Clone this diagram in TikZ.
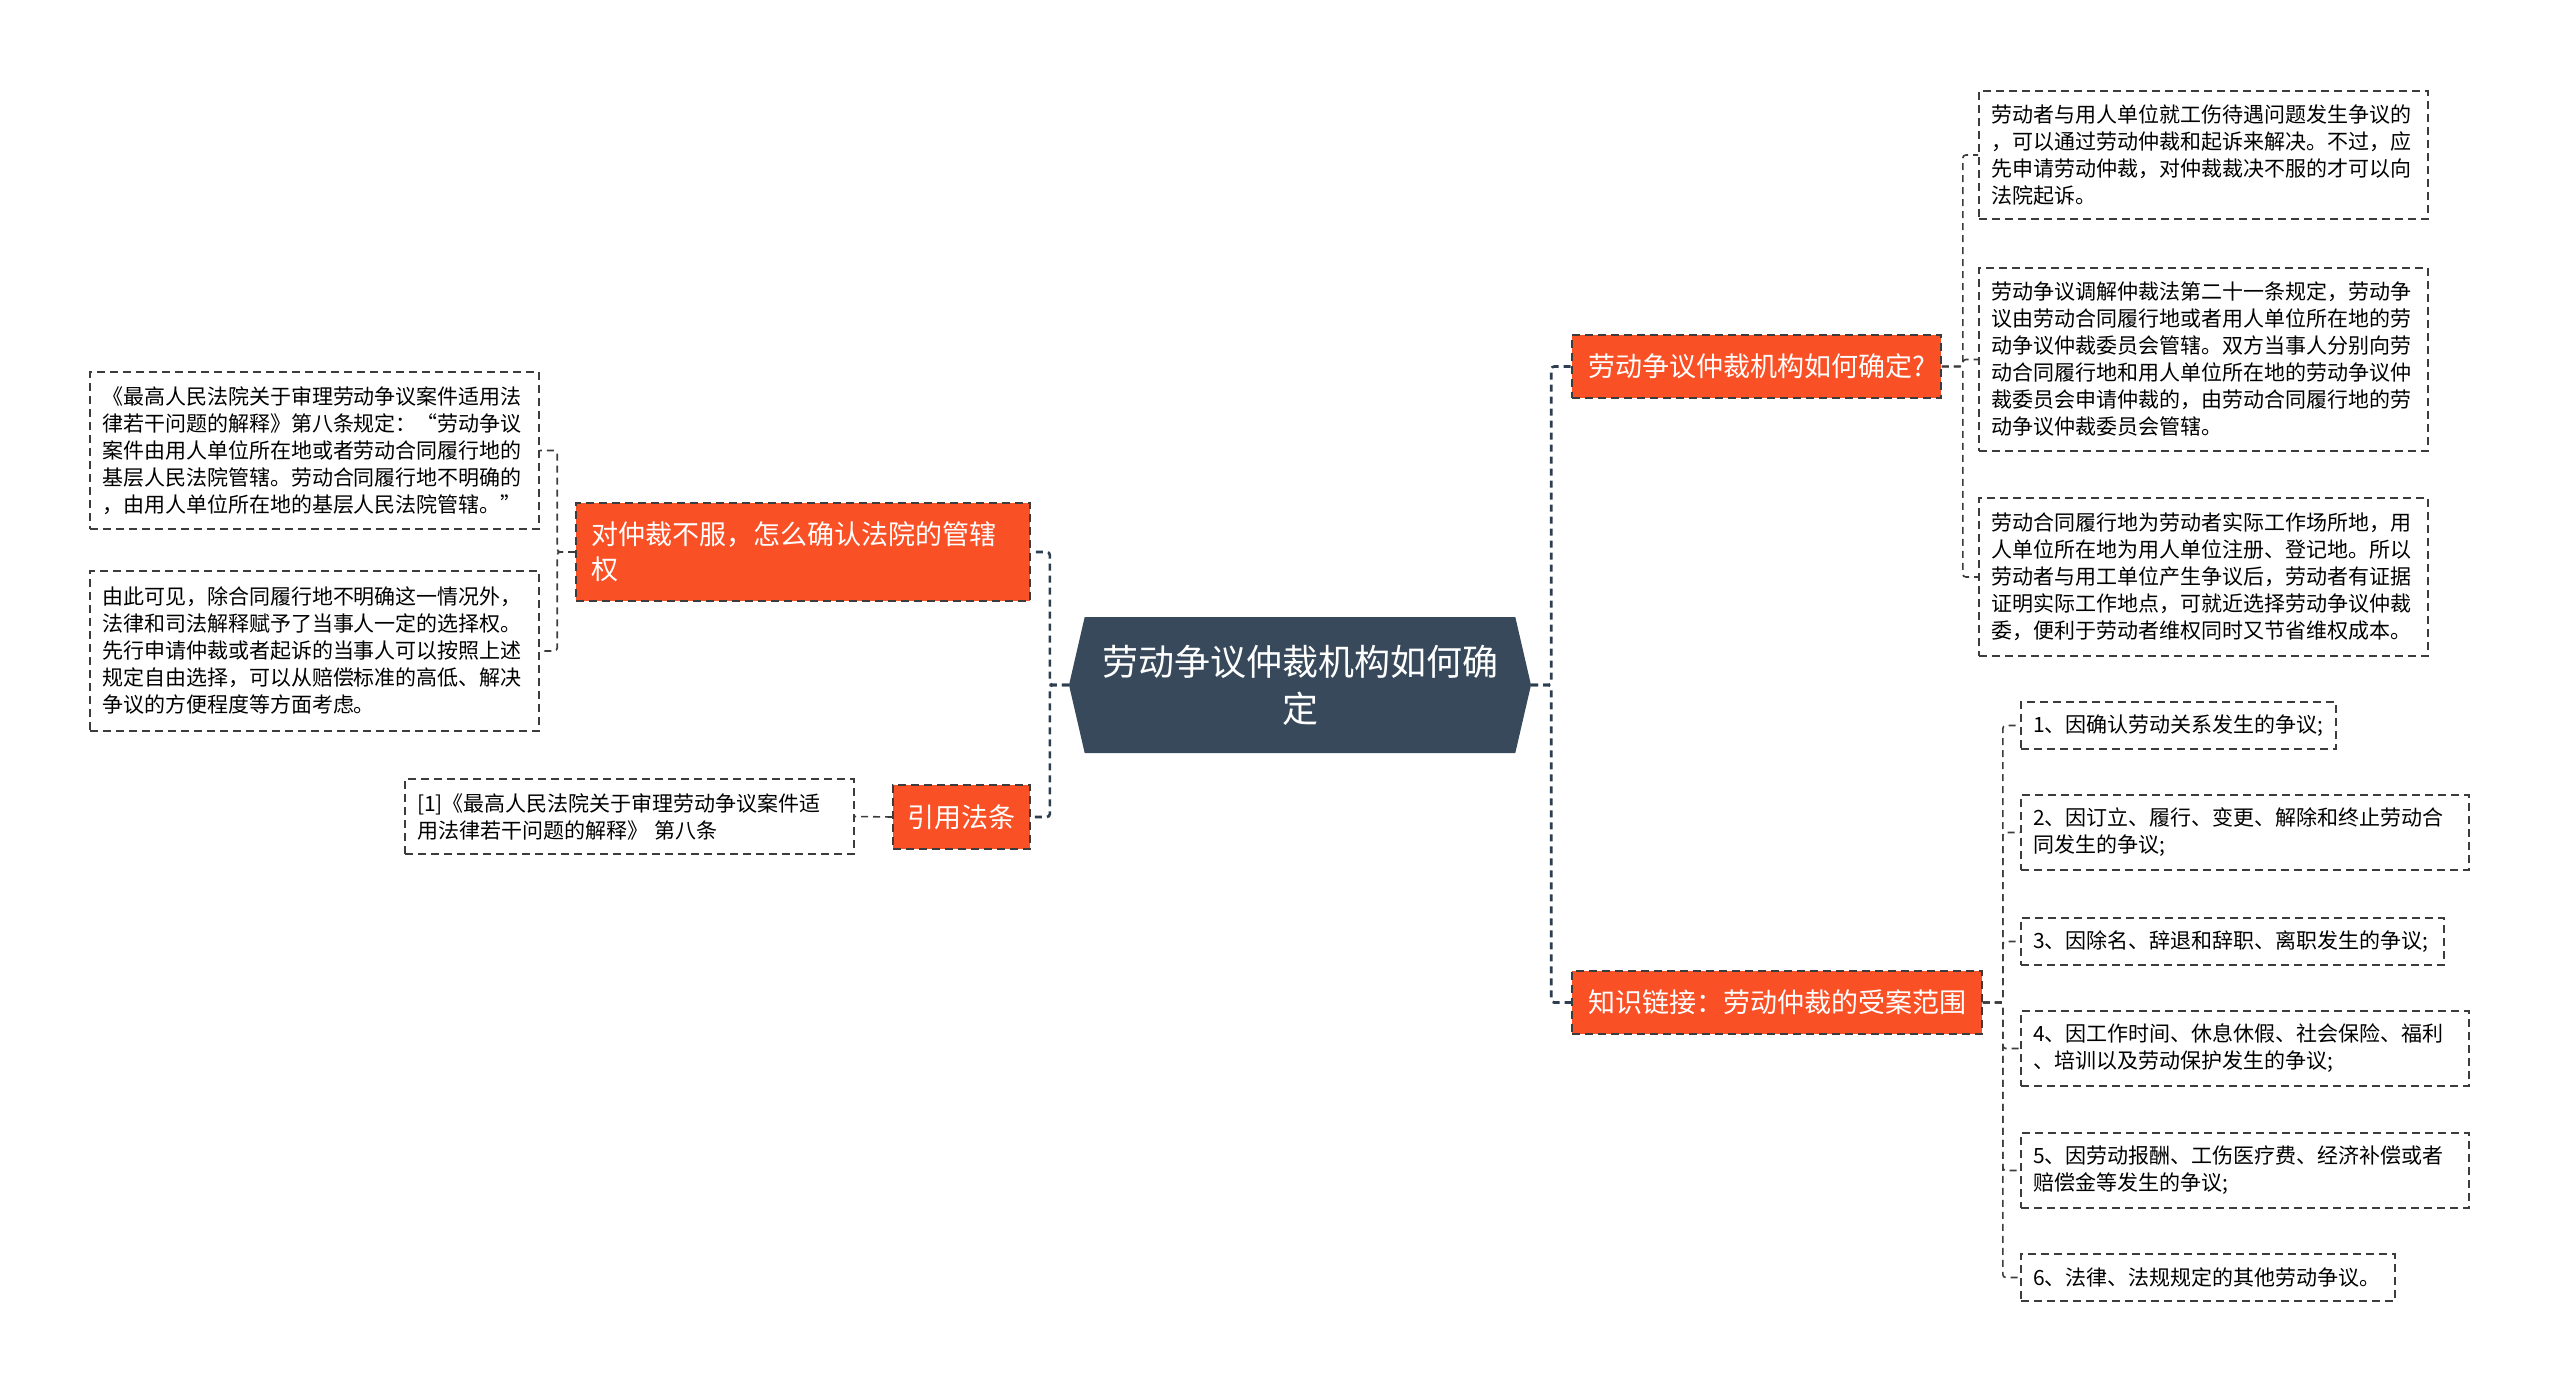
\documentclass[tikz,border=0pt]{standalone}
\usepackage{fontspec}
\setmainfont{Noto Sans CJK SC}
\usetikzlibrary{shapes.symbols}
\definecolor{hubblue}{HTML}{37495B}
\definecolor{twigred}{HTML}{FA5026}
\definecolor{edgegray}{HTML}{2C3E50}
\definecolor{boxgray}{HTML}{3C3C3C}

\begin{document}
\begin{tikzpicture}[x=1pt,y=-1pt]
        \tikzstyle{every node}=[inner sep=0pt]
        \tikzstyle{hub}=[shape=signal, signal to=east and west, signal pointer angle=154, fill=hubblue, text=white, align=center, minimum width=462pt, minimum height=136pt, font=\fontsize{36}{47}\selectfont]
        \tikzstyle{twig}=[fill=twigred, draw=boxgray, dash pattern=on 8pt off 5pt, line width=1.6pt, text=white, font=\fontsize{27}{35}\selectfont, minimum height=63pt]
        \tikzstyle{leaf}=[draw=boxgray, dash pattern=on 8pt off 5pt, line width=1.6pt, inner xsep=12pt, align=left, font=\fontsize{21}{27}\selectfont]
        \tikzstyle{link}=[draw=edgegray, line width=2.6pt, dash pattern=on 7pt off 5pt, rounded corners=3pt]
        \tikzstyle{sublink}=[draw=boxgray, line width=1.6pt, dash pattern=on 7pt off 5pt, rounded corners=3pt]
        \useasboundingbox (0,0) rectangle (2560,1395);

        \node[hub] (hub) at (1300,685) {劳动争议仲裁机构如何确\\定};
        \node[twig, minimum width=369pt] (ask) at (1756.5,366.5) {劳动争议仲裁机构如何确定?};
        \node[twig, minimum width=410pt] (scope) at (1777,1002.5) {知识链接：劳动仲裁的受案范围};
        \node[twig, text width=424pt, inner xsep=15pt, minimum height=98pt, align=left] (court) at (803,552) {对仲裁不服，怎么确认法院的管辖\\权};
        \node[twig, minimum width=137pt, minimum height=64pt] (cite) at (961.5,817) {引用法条};

        \node[leaf, text width=425pt, minimum height=157pt] (rule) at (314.5,450.5) {《最高人民法院关于审理劳动争议案件适用法\\律若干问题的解释》第八条规定：“劳动争议\\案件由用人单位所在地或者劳动合同履行地的\\基层人民法院管辖。劳动合同履行地不明确的\\，由用人单位所在地的基层人民法院管辖。”};
        \node[leaf, text width=425pt, minimum height=160pt] (choice) at (314.5,651) {由此可见，除合同履行地不明确这一情况外，\\法律和司法解释赋予了当事人一定的选择权。\\先行申请仲裁或者起诉的当事人可以按照上述\\规定自由选择，可以从赔偿标准的高低、解决\\争议的方便程度等方面考虑。};
        \node[leaf, text width=425pt, minimum height=75pt] (source) at (629.5,816.5) {[1]《最高人民法院关于审理劳动争议案件适\\用法律若干问题的解释》 第八条};

        \node[leaf, text width=425pt, minimum height=128pt] (injury) at (2203.5,155) {劳动者与用人单位就工伤待遇问题发生争议的\\，可以通过劳动仲裁和起诉来解决。不过，应\\先申请劳动仲裁，对仲裁裁决不服的才可以向\\法院起诉。};
        \node[leaf, text width=425pt, minimum height=183pt] (law) at (2203.5,359.5) {劳动争议调解仲裁法第二十一条规定，劳动争\\议由劳动合同履行地或者用人单位所在地的劳\\动争议仲裁委员会管辖。双方当事人分别向劳\\动合同履行地和用人单位所在地的劳动争议仲\\裁委员会申请仲裁的，由劳动合同履行地的劳\\动争议仲裁委员会管辖。};
        \node[leaf, text width=425pt, minimum height=158pt] (place) at (2203.5,577) {劳动合同履行地为劳动者实际工作场所地，用\\人单位所在地为用人单位注册、登记地。所以\\劳动者与用工单位产生争议后，劳动者有证据\\证明实际工作地点，可就近选择劳动争议仲裁\\委，便利于劳动者维权同时又节省维权成本。};

        \node[leaf, text width=291pt, minimum height=47pt] (item1) at (2178.5,725.5) {1、因确认劳动关系发生的争议;};
        \node[leaf, text width=424pt, minimum height=75pt] (item2) at (2245,832.5) {2、因订立、履行、变更、解除和终止劳动合\\同发生的争议;};
        \node[leaf, text width=399pt, minimum height=47pt] (item3) at (2232.5,941.5) {3、因除名、辞退和辞职、离职发生的争议;};
        \node[leaf, text width=424pt, minimum height=75pt] (item4) at (2245,1048.5) {4、因工作时间、休息休假、社会保险、福利\\、培训以及劳动保护发生的争议;};
        \node[leaf, text width=424pt, minimum height=75pt] (item5) at (2245,1170.5) {5、因劳动报酬、工伤医疗费、经济补偿或者\\赔偿金等发生的争议;};
        \node[leaf, text width=350pt, minimum height=47pt] (item6) at (2208,1277.5) {6、法律、法规规定的其他劳动争议。};

        \foreach \t in {ask,scope} \draw[link] (hub.east) -- ++(20,0) |- (\t.west);
        \foreach \t in {court,cite} \draw[link] (hub.west) -- ++(-19,0) |- (\t.east);
        \foreach \t in {rule,choice} \draw[sublink] (court.west) -- ++(-18,0) |- (\t.east);
        \draw[sublink] (cite.west) -- (source.east);
        \foreach \t in {injury,law,place} \draw[sublink] (ask.east) -- ++(21,0) |- (\t.west);
        \foreach \t in {item1,item2,item3,item4,item5,item6} \draw[sublink] (scope.east) -- ++(20,0) |- (\t.west);
\end{tikzpicture}
\end{document}
